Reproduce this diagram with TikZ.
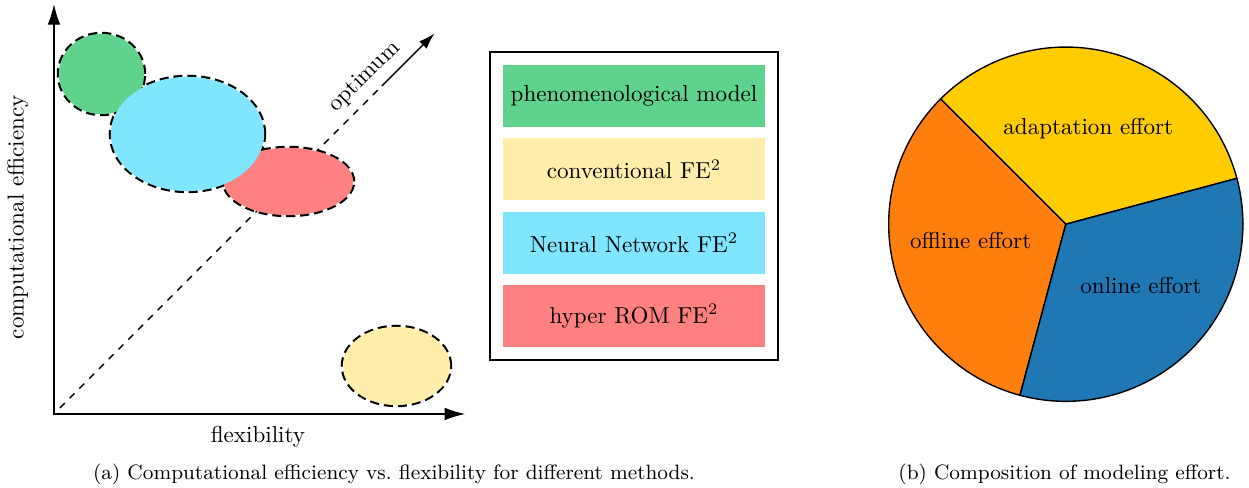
\documentclass[tikz,border=0pt]{standalone}
\usepackage{tikz}
\usetikzlibrary{arrows.meta,positioning,fit}
\definecolor{phenogreen}{HTML}{5FD38D}
\definecolor{convyellow}{HTML}{FFEEAA}
\definecolor{nncyan}{HTML}{80E5FF}
\definecolor{romred}{HTML}{FF8080}
\definecolor{adaptyellow}{HTML}{FFCC00}
\definecolor{offorange}{HTML}{FF7F0E}
\definecolor{onblue}{HTML}{1F77B4}
\tikzset{
  axis/.style={semithick, {Latex[length=9pt,width=5.5pt]}-{Latex[length=9pt,width=5.5pt]}},
  region/.style={line width=1.8pt, dash pattern=on 3.9pt off 2.1pt},
  legendbox/.style={minimum width=4cm, minimum height=0.94cm, inner sep=0pt},
  slice/.style={draw=black, semithick},
}

\begin{document}
\begin{tikzpicture}
\useasboundingbox (-0.823,-1.128) rectangle (18.218,6.311);

\coordinate (O) at (0,0);
\coordinate (ytip) at (0,6.25);
\coordinate (xtip) at (6.27,0);
\draw[axis] (ytip) -- (O) -- (xtip);

\node[rotate=90] (ylabel) at (-0.55,3.0) {computational efficiency};
\node (xlabel) at (3.11,-0.35) {flexibility};

\coordinate (d0) at (0.09,0.09);
\coordinate (d1) at (5,5);
\coordinate (d2) at (5.8,5.8);
\draw[semithick, dashed] (d0) -- (d1);
\draw[semithick, -{Latex[length=7pt,width=4.5pt]}] (d1) -- (d2);
\node[rotate=45] (opt) at (4.74,5.14) {optimum};

\coordinate (pheno) at (0.724,5.183);
\coordinate (nn) at (2.035,4.269);
\coordinate (rom) at (3.575,3.544);
\coordinate (conv) at (5.221,0.732);

\draw[region] (pheno) ellipse [x radius=0.65, y radius=0.612];
\draw[region] (nn) ellipse [x radius=1.169, y radius=0.871];
\draw[region] (rom) ellipse [x radius=0.986, y radius=0.513];
\draw[region] (conv) ellipse [x radius=0.818, y radius=0.597];

\fill[phenogreen] (pheno) ellipse [x radius=0.65, y radius=0.612];
\fill[romred] (rom) ellipse [x radius=0.986, y radius=0.513];
\fill[nncyan] (nn) ellipse [x radius=1.169, y radius=0.871];
\fill[convyellow] (conv) ellipse [x radius=0.818, y radius=0.597];

\node[legendbox, fill=phenogreen] (lpheno) at (8.842,4.850) {phenomenological model};
\node[legendbox, fill=convyellow, below=0.166cm of lpheno] (lconv) {conventional FE$^2$};
\node[legendbox, fill=nncyan, below=0.166cm of lconv] (lnn) {Neural Network FE$^2$};
\node[legendbox, fill=romred, below=0.166cm of lnn] (lrom) {hyper ROM FE$^2$};
\node[draw, semithick, fit=(lpheno)(lrom), inner sep=0.19cm] (legend) {};

\coordinate (pc) at (15.425,2.893);
\filldraw[slice, fill=adaptyellow] (pc) -- ++(15:2.7) arc[start angle=15, end angle=135, radius=2.7] -- cycle;
\filldraw[slice, fill=offorange] (pc) -- ++(135:2.7) arc[start angle=135, end angle=255, radius=2.7] -- cycle;
\filldraw[slice, fill=onblue] (pc) -- ++(255:2.7) arc[start angle=255, end angle=375, radius=2.7] -- cycle;

\node (adapt) at (15.768,4.355) {adaptation effort};
\node (offline) at (13.975,2.641) {offline effort};
\node (online) at (16.571,1.951) {online effort};

\node[font=\small] (capa) at (5.183,-0.915) {(a) Computational efficiency vs.\ flexibility for different methods.};
\node[font=\small] (capb) at (15.405,-0.915) {(b) Composition of modeling effort.};
\end{tikzpicture}
\end{document}
